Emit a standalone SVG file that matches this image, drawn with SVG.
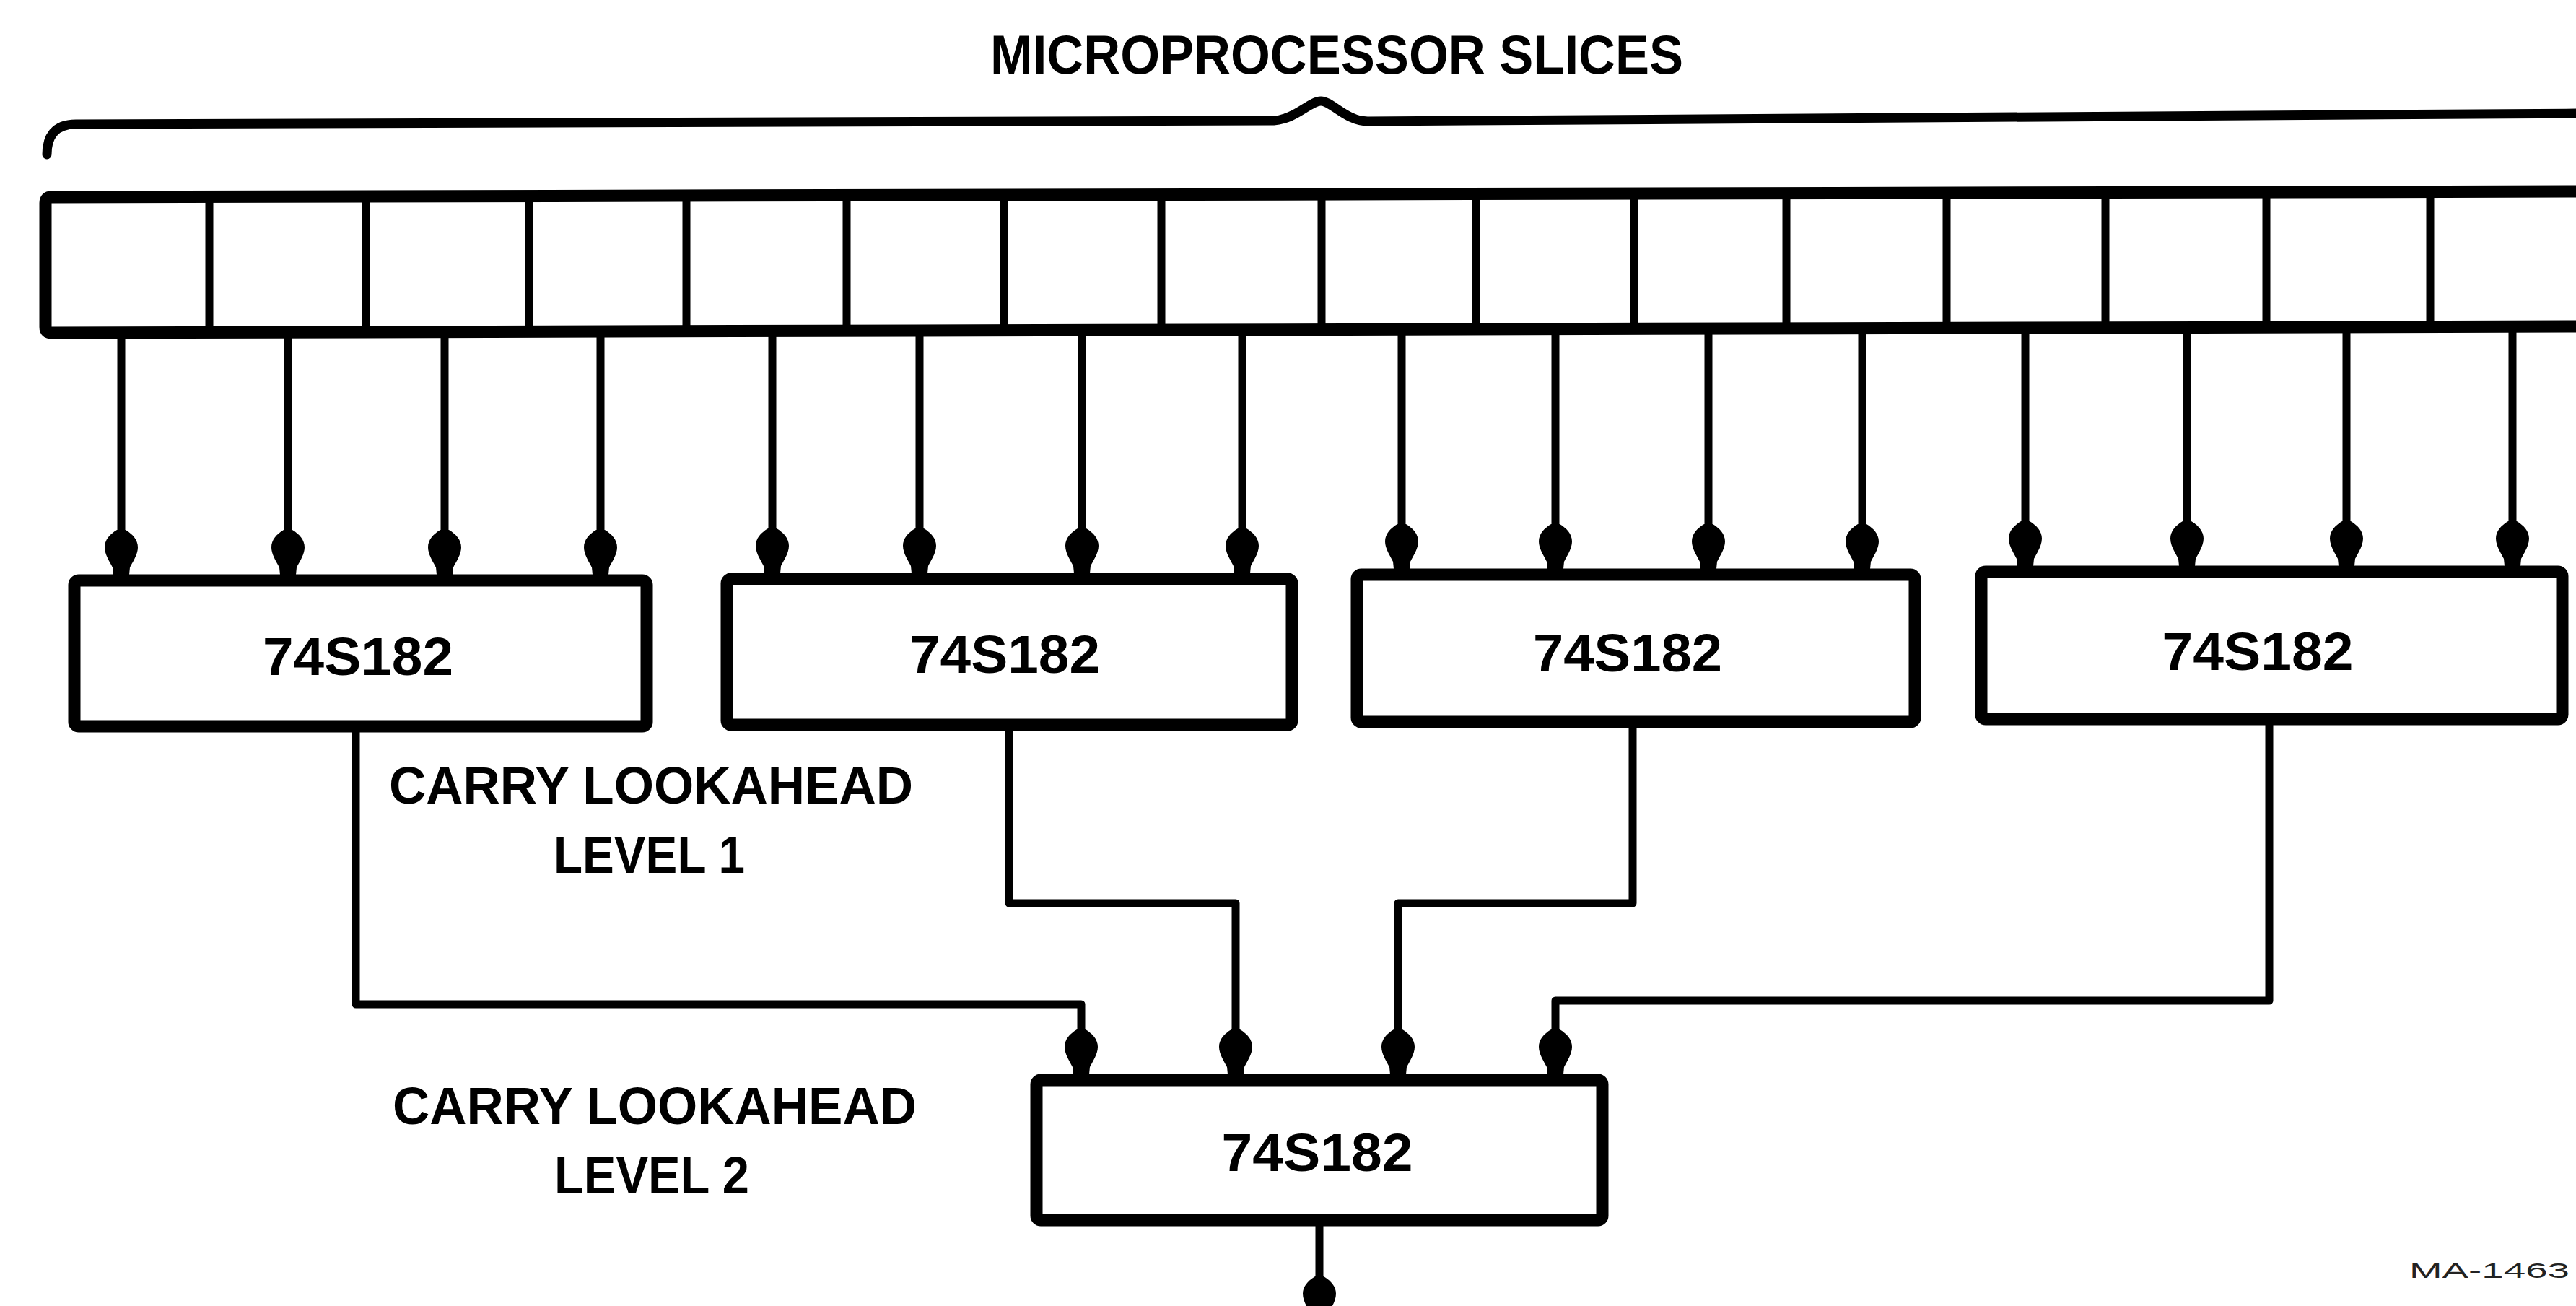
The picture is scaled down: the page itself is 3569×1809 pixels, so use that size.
<svg xmlns="http://www.w3.org/2000/svg" width="3569" height="1809" viewBox="0 0 3569 1809">
<style>
.bx{fill:none;stroke:#000;stroke-width:17;stroke-linejoin:round}
.ln{fill:none;stroke:#000;stroke-width:11;stroke-linejoin:round}
.dv{stroke:#000;stroke-width:11}
.t{font-family:"Liberation Sans",Arial,sans-serif;font-weight:bold;fill:#000}
</style>
<defs>
<marker id="arr" markerUnits="userSpaceOnUse" viewBox="-70 -30 75 60" refX="0" refY="0" markerWidth="75" markerHeight="60" orient="auto" overflow="visible">
<path d="M -62,-6 C -56,-16 -48,-23 -38,-23 C -28,-23 -18,-16 -10,-12 L 0,-11 L 0,11 L -10,12 C -18,16 -28,23 -38,23 C -48,23 -56,16 -62,6 Z" fill="#000"/>
</marker>
</defs>
<rect width="3569" height="1809" fill="#fff"/>

<g id="title">
<text class="t" x="1372" y="102" font-size="76" textLength="960" lengthAdjust="spacingAndGlyphs">MICROPROCESSOR SLICES</text>
<path d="M 65,214 C 65,190 75,172 105,172 L 1765,167 C 1795,165 1815,140 1830,140 C 1845,140 1865,168 1895,168 L 3580,157" fill="none" stroke="#000" stroke-width="13" stroke-linecap="round"/>
</g>

<g id="slices">
<path class="bx" stroke-width="16" d="M 3600,265 L 71,273 Q 63,273 63,281 L 63,453 Q 63,461 71,461 L 3600,452"/>
<line class="dv" x1="290" y1="273" x2="290" y2="461"/>
<line class="dv" x1="507" y1="272" x2="507" y2="460"/>
<line class="dv" x1="733" y1="272" x2="733" y2="460"/>
<line class="dv" x1="951" y1="272" x2="951" y2="460"/>
<line class="dv" x1="1173" y1="271" x2="1173" y2="459"/>
<line class="dv" x1="1391" y1="271" x2="1391" y2="459"/>
<line class="dv" x1="1609" y1="270" x2="1609" y2="458"/>
<line class="dv" x1="1831" y1="270" x2="1831" y2="458"/>
<line class="dv" x1="2045" y1="269" x2="2045" y2="457"/>
<line class="dv" x1="2264" y1="269" x2="2264" y2="457"/>
<line class="dv" x1="2475" y1="268" x2="2475" y2="456"/>
<line class="dv" x1="2697" y1="268" x2="2697" y2="455"/>
<line class="dv" x1="2917" y1="267" x2="2917" y2="455"/>
<line class="dv" x1="3140" y1="267" x2="3140" y2="454"/>
<line class="dv" x1="3367" y1="266" x2="3367" y2="453"/>
</g>

<g id="box1">
<rect class="bx" x="103" y="804" width="793" height="202" rx="6"/>
<text class="t" x="496" y="935" font-size="75" text-anchor="middle" textLength="264" lengthAdjust="spacingAndGlyphs">74S182</text>
</g>
<g id="box2">
<rect class="bx" x="1007" y="802" width="783" height="202" rx="6"/>
<text class="t" x="1392" y="932" font-size="75" text-anchor="middle" textLength="264" lengthAdjust="spacingAndGlyphs">74S182</text>
</g>
<g id="box3">
<rect class="bx" x="1880" y="796" width="773" height="204" rx="6"/>
<text class="t" x="2255" y="930" font-size="75" text-anchor="middle" textLength="262" lengthAdjust="spacingAndGlyphs">74S182</text>
</g>
<g id="box4">
<rect class="bx" x="2745" y="792" width="805" height="204" rx="6"/>
<text class="t" x="3128" y="928" font-size="75" text-anchor="middle" textLength="265" lengthAdjust="spacingAndGlyphs">74S182</text>
</g>
<g id="box5">
<rect class="bx" x="1436" y="1496" width="784" height="194" rx="6"/>
<text class="t" x="1825" y="1622" font-size="75" text-anchor="middle" textLength="265" lengthAdjust="spacingAndGlyphs">74S182</text>
</g>

<g id="labels">
<text class="t" x="539" y="1113" font-size="72" textLength="726" lengthAdjust="spacingAndGlyphs">CARRY LOOKAHEAD</text>
<text class="t" x="767" y="1209" font-size="72" textLength="265" lengthAdjust="spacingAndGlyphs">LEVEL 1</text>
<text class="t" x="544" y="1557" font-size="72" textLength="726" lengthAdjust="spacingAndGlyphs">CARRY LOOKAHEAD</text>
<text class="t" x="768" y="1653" font-size="72" textLength="270" lengthAdjust="spacingAndGlyphs">LEVEL 2</text>
<text x="3338" y="1770" font-family="Liberation Sans,Arial,sans-serif" font-size="30" fill="#222" textLength="222" lengthAdjust="spacingAndGlyphs">MA-1463</text>
</g>

<g id="connectors">
<line class="ln" marker-end="url(#arr)" x1="168" y1="461" x2="168" y2="796"/>
<line class="ln" marker-end="url(#arr)" x1="399" y1="460" x2="399" y2="796"/>
<line class="ln" marker-end="url(#arr)" x1="616" y1="460" x2="616" y2="796"/>
<line class="ln" marker-end="url(#arr)" x1="832" y1="460" x2="832" y2="796"/>
<line class="ln" marker-end="url(#arr)" x1="1070" y1="459" x2="1070" y2="794"/>
<line class="ln" marker-end="url(#arr)" x1="1274" y1="459" x2="1274" y2="794"/>
<line class="ln" marker-end="url(#arr)" x1="1499" y1="458" x2="1499" y2="794"/>
<line class="ln" marker-end="url(#arr)" x1="1721" y1="458" x2="1721" y2="794"/>
<line class="ln" marker-end="url(#arr)" x1="1942" y1="457" x2="1942" y2="788"/>
<line class="ln" marker-end="url(#arr)" x1="2155" y1="457" x2="2155" y2="788"/>
<line class="ln" marker-end="url(#arr)" x1="2367" y1="456" x2="2367" y2="788"/>
<line class="ln" marker-end="url(#arr)" x1="2580" y1="455" x2="2580" y2="788"/>
<line class="ln" marker-end="url(#arr)" x1="2806" y1="455" x2="2806" y2="784"/>
<line class="ln" marker-end="url(#arr)" x1="3030" y1="454" x2="3030" y2="784"/>
<line class="ln" marker-end="url(#arr)" x1="3251" y1="453" x2="3251" y2="784"/>
<line class="ln" marker-end="url(#arr)" x1="3481" y1="453" x2="3481" y2="784"/>
<path class="ln" marker-end="url(#arr)" d="M 493,1014 L 493,1391 L 1498,1391 L 1498,1488"/>
<path class="ln" marker-end="url(#arr)" d="M 1398,1012 L 1398,1251 L 1712,1251 L 1712,1488"/>
<path class="ln" marker-end="url(#arr)" d="M 2262,1008 L 2262,1251 L 1937,1251 L 1937,1488"/>
<path class="ln" marker-end="url(#arr)" d="M 3144,1004 L 3144,1386 L 2155,1386 L 2155,1488"/>
<line class="ln" marker-end="url(#arr)" x1="1828" y1="1698" x2="1828" y2="1830"/>
</g>
</svg>
